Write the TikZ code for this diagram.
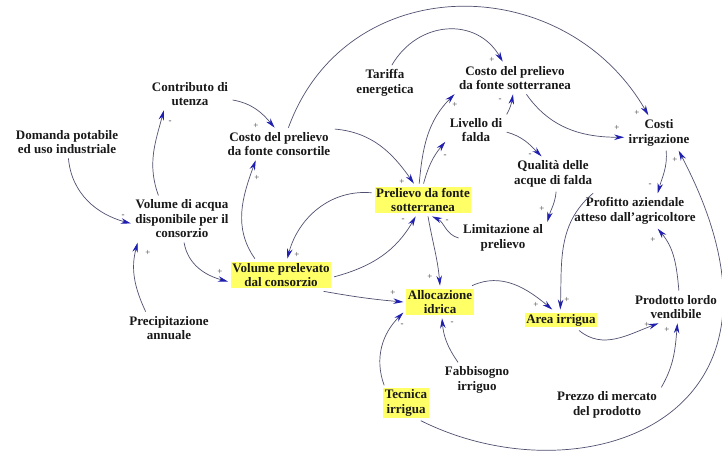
\documentclass[tikz,border=0pt]{standalone}
\usepackage{fontspec}
\setmainfont{Liberation Serif}
\usetikzlibrary{arrows.meta}
\definecolor{hl}{RGB}{255,255,102}
\definecolor{ln}{RGB}{80,80,112}
\definecolor{ah}{RGB}{30,30,175}
\definecolor{tx}{RGB}{25,25,25}
\begin{document}
\begin{tikzpicture}[x=1pt,y=1pt,
  var/.style={font=\fontsize{13}{14.5}\selectfont\bfseries, text=tx, align=center, inner sep=1.5pt, outer sep=3pt},
  hvar/.style={var, fill=hl},
  link/.style={draw=ln, line width=0.7pt, -{Stealth[length=10pt,width=5.5pt,color=ah]}},
  sgn/.style={font=\fontsize{9}{9}\selectfont, text=black!75, inner sep=0pt}
]
\fill[white] (0,0) rectangle (722,-465);
\useasboundingbox (0,0) rectangle (722,-465);

% variables
\node[var] (dom) at (67,-142) {Domanda potabile\\ed uso industriale};
\node[var] (contr) at (190,-94) {Contributo di\\utenza};
\node[var] (ccons) at (279,-144) {Costo del prelievo\\da fonte consortile};
\node[var] (vacq) at (182,-219) {Volume di acqua\\disponibile per il\\consorzio};
\node[var] (prec) at (169,-328) {Precipitazione\\annuale};
\node[hvar] (vprel) at (281,-275) {Volume prelevato\\dal consorzio};
\node[var] (tar) at (385,-83) {Tariffa\\energetica};
\node[var] (csott) at (515,-78) {Costo del prelievo\\da fonte sotterranea};
\node[var] (liv) at (476,-130) {Livello di\\falda};
\node[hvar] (prel) at (423,-200) {Prelievo da fonte\\sotterranea};
\node[var] (qual) at (553,-174) {Qualità delle\\acque di falda};
\node[var] (lim) at (503,-238) {Limitazione al\\prelievo};
\node[var] (costi) at (659,-133) {Costi\\irrigazione};
\node[var] (prof) at (635,-211) {Profitto aziendale\\atteso dall'agricoltore};
\node[hvar] (alloc) at (440,-302) {Allocazione\\idrica};
\node[hvar] (area) at (561,-320) {Area irrigua};
\node[var] (prod) at (676,-307) {Prodotto lordo\\vendibile};
\node[var] (fabb) at (477,-380) {Fabbisogno\\irriguo};
\node[var] (prezzo) at (607,-405) {Prezzo di mercato\\del prodotto};
\node[hvar] (tec) at (406,-403) {Tecnica\\irrigua};

% links
\draw[link] (dom.-85) to[out=-85,in=165] (vacq.185);
\draw[link] (vacq.135) to[out=110,in=255] (contr.212);
\draw[link] (prec.145) to[out=115,in=255] (vacq.208);
\draw[link] (vacq.-85) to[out=-80,in=165] (vprel.187);
\draw[link] (vprel.148) to[out=125,in=250] (ccons.215);
\draw[link] (contr.-8) to[out=-10,in=130] (ccons.105);
\draw[link] (ccons.60) to[out=70,in=120,looseness=1.2] (costi.121);
\draw[link] (tar.69) to[out=60,in=120,looseness=1.2] (csott.127);
\draw[link] (csott.-55) to[out=-55,in=180] (costi.187);
\draw[link] (liv.27) to[out=60,in=-100] (csott.-97);
\draw[link] (liv.-4) to[out=-15,in=135] (qual.123);
\draw[link] (prel.103) to[out=85,in=225] (csott.195);
\draw[link] (prel.88) to[out=75,in=230] (liv.201);
\draw[link] (ccons.15) to[out=-5,in=125] (prel.119);
\draw[link] (prel.172) to[out=175,in=75] (vprel.69);
\draw[link] (vprel.-2) to[out=15,in=240] (prel.246);
\draw[link] (lim.180) to[out=165,in=-25] (prel.-61);
\draw[link] (prel.-73) to[out=-80,in=95] (alloc.90);
\draw[link] (vprel.-21) to[out=-10,in=175] (alloc.180);
\draw[link] (tec.141) to[out=110,in=225] (alloc.196);
\draw[link] (fabb.137) to[out=125,in=-85] (alloc.-83);
\draw[link] (alloc.27) to[out=25,in=140] (area.130);
\draw[link] (prof.157) to[out=220,in=88] (area.94);
\draw[link] (area.-30) to[out=-40,in=200] (prod.223);
\draw[link] (prezzo.18) to[out=60,in=-95] (prod.-85);
\draw[link] (prod.80) to[out=95,in=-50] (prof.-38);
\draw[link] (costi.-68) to[out=-85,in=75] (prof.38);
\draw[link] (qual.-80) to[out=-95,in=75] (lim.20);
\draw[link] (tec.-50) .. controls +(160,-80) and +(142,-270) .. (costi.-42);

% polarities
\node[sgn] (s1) at (123,-216) {-};
\node[sgn] (s2) at (170,-122) {-};
\node[sgn] (s3) at (148,-253) {+};
\node[sgn] (s4) at (220,-272) {+};
\node[sgn] (s5) at (257,-178) {+};
\node[sgn] (s6) at (256,-126) {+};
\node[sgn] (s7) at (637,-113) {+};
\node[sgn] (s8) at (492,-60) {+};
\node[sgn] (s9) at (617,-128) {+};
\node[sgn] (s10) at (500,-100) {-};
\node[sgn] (s11) at (530,-155) {-};
\node[sgn] (s12) at (455,-105) {+};
\node[sgn] (s13) at (445,-156) {-};
\node[sgn] (s14) at (402,-182) {+};
\node[sgn] (s15) at (297,-255) {+};
\node[sgn] (s16) at (403,-220) {-};
\node[sgn] (s17) at (447,-221) {-};
\node[sgn] (s18) at (430,-277) {+};
\node[sgn] (s19) at (393,-293) {+};
\node[sgn] (s20) at (402,-325) {-};
\node[sgn] (s21) at (452,-323) {-};
\node[sgn] (s22) at (536,-305) {+};
\node[sgn] (s23) at (567,-300) {+};
\node[sgn] (s24) at (647,-325) {+};
\node[sgn] (s25) at (667,-330) {+};
\node[sgn] (s26) at (653,-240) {+};
\node[sgn] (s27) at (650,-185) {-};
\node[sgn] (s28) at (675,-160) {+};
\node[sgn] (s29) at (542,-209) {+};
\end{tikzpicture}
\end{document}
